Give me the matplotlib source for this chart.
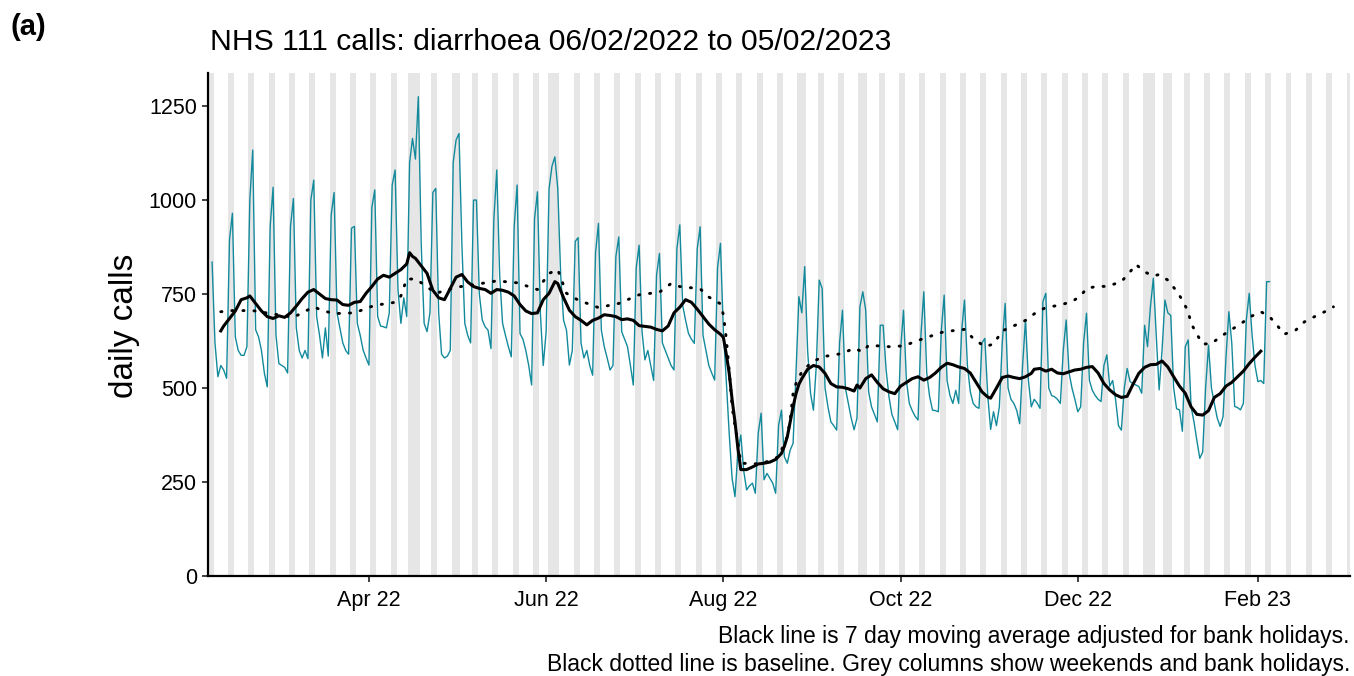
import numpy as np
import pandas as pd
import matplotlib
matplotlib.use('Agg')
import matplotlib.pyplot as plt
import matplotlib.dates as mdates

plt.rcParams['font.family'] = ['Liberation Sans', 'DejaVu Sans']

# ------------------------------
# Data
# ------------------------------
start = pd.Timestamp('2022-02-06')

# daily calls: Sun 06/02/2022, then one row per week (Mon .. Sun)
calls = [835,
         620, 530, 560, 548, 526, 894, 965,
         636, 600, 587, 587, 610, 1000, 1133,
         655, 636, 600, 540, 503, 930, 1034,
         640, 565, 560, 555, 540, 930, 1004,
         660, 600, 580, 600, 578, 1000, 1053,
         690, 640, 580, 660, 585, 960, 1020,
         700, 660, 620, 600, 590, 925, 930,
         672, 640, 601, 580, 561, 980, 1027,
         690, 665, 663, 660, 700, 1040, 1080,
         761, 672, 740, 690, 1100, 1164, 1109,
         1275, 880, 672, 650, 700, 1020, 1031,
         700, 590, 580, 585, 600, 1100, 1160,
         1177, 880, 672, 640, 620, 1000, 1000,
         750, 681, 663, 654, 605, 950, 1080,
         800, 672, 640, 610, 583, 930, 1040,
         645, 630, 600, 560, 508, 950, 1022,
         700, 560, 650, 1030, 1090, 1115, 1030,
         800, 680, 654, 561, 600, 890, 900,
         620, 580, 600, 560, 534, 860, 938,
         654, 610, 580, 548, 560, 850, 902,
         650, 630, 610, 560, 508, 820, 880,
         650, 575, 600, 560, 520, 800, 858,
         620, 600, 580, 560, 548, 870, 934,
         720, 680, 645, 630, 619, 870, 929,
         640, 600, 560, 540, 521, 820, 885,
         650, 520, 380, 260, 211, 330, 375,
         280, 229, 240, 247, 220, 380, 433,
         256, 273, 260, 247, 220, 400, 441,
         317, 300, 335, 353, 540, 743, 700,
         823, 600, 486, 441, 560, 787, 765,
         500, 450, 410, 400, 388, 620, 707,
         500, 460, 420, 389, 420, 716, 756,
         707, 490, 450, 430, 410, 667, 667,
         550, 477, 430, 410, 389, 600, 707,
         520, 459, 440, 425, 415, 640, 756,
         540, 477, 441, 440, 437, 650, 747,
         520, 480, 459, 494, 459, 650, 734,
         560, 490, 459, 450, 446, 620, 632,
         480, 390, 437, 400, 450, 620, 725,
         500, 470, 459, 440, 405, 560, 681,
         520, 450, 470, 460, 446, 730, 752,
         500, 480, 477, 470, 459, 600, 681,
         540, 500, 470, 437, 450, 620, 699,
         520, 494, 480, 470, 464, 560, 588,
         505, 520, 470, 400, 388, 500, 552,
         517, 512, 508, 504, 486, 667, 610,
         716, 792, 640, 495, 600, 734, 700,
         693, 500, 445, 442, 385, 610, 628,
         450, 410, 360, 313, 330, 500, 614,
         500, 459, 420, 398, 424, 580, 703,
         620, 451, 448, 442, 459, 680, 752,
         640, 560, 517, 520, 512, 783, 783]

# 7 day moving average (days after 06/02/2022, value)
ma_day = [3, 4, 6, 8, 10, 12, 13, 15, 17, 19,
          21, 23, 25, 27, 29, 31, 33, 35, 37, 39,
          41, 43, 45, 47, 49, 51, 53, 55, 57, 59,
          61, 63, 65, 67, 68, 69, 70, 72, 74, 76,
          78, 80, 82, 84, 86, 88, 90, 92, 94, 96,
          98, 100, 102, 104, 106, 108, 110, 112, 114, 116,
          118, 119, 121, 123, 125, 127, 129, 131, 133, 135,
          137, 139, 141, 143, 145, 147, 149, 151, 153, 155,
          157, 159, 161, 163, 165, 167, 169, 171, 173, 175,
          176, 177, 178, 179, 180, 181, 182, 184, 186, 188,
          190, 192, 194, 196, 197, 198, 199, 200, 201, 202,
          203, 205, 207, 209, 211, 213, 215, 217, 219, 221,
          222, 223, 225, 227, 229, 231, 233, 235, 237, 239,
          241, 243, 245, 247, 249, 251, 253, 255, 257, 259,
          261, 263, 265, 267, 268, 270, 272, 274, 276, 278,
          280, 282, 283, 285, 287, 289, 291, 293, 295, 297,
          299, 301, 303, 305, 307, 309, 311, 313, 315, 317,
          319, 321, 323, 325, 327, 329, 331, 333, 335, 337,
          339, 341, 343, 345, 347, 349, 351, 353, 355, 357,
          359, 361]
ma_val = [652, 665, 685, 705, 735, 740, 745, 725, 705, 690,
          685, 692, 688, 700, 718, 738, 755, 762, 750, 738,
          735, 734, 722, 720, 728, 730, 752, 770, 790, 800,
          795, 805, 815, 830, 860, 850, 845, 825, 805, 760,
          740, 735, 765, 795, 802, 782, 770, 765, 762, 752,
          762, 760, 755, 745, 722, 705, 698, 700, 735, 752,
          783, 778, 740, 707, 690, 680, 668, 680, 686, 695,
          693, 690, 682, 684, 680, 666, 664, 662, 656, 652,
          665, 700, 715, 735, 728, 710, 690, 670, 655, 643,
          635, 590, 540, 470, 410, 340, 283, 283, 290, 298,
          300, 303, 310, 326, 345, 370, 410, 450, 485, 510,
          525, 550, 560, 556, 539, 512, 503, 502, 498, 492,
          508, 500, 525, 535, 515, 498, 490, 485, 505, 515,
          525, 530, 521, 528, 540, 555, 566, 562, 556, 552,
          540, 515, 490, 476, 473, 500, 528, 532, 528, 525,
          530, 539, 550, 552, 545, 550, 540, 538, 543, 548,
          550, 555, 557, 540, 512, 495, 482, 475, 478, 510,
          539, 555, 562, 563, 572, 556, 530, 505, 486, 450,
          430, 428, 440, 475, 485, 505, 515, 530, 545, 565,
          582, 598]

# baseline (days after 06/02/2022, value)
base_day = [3, 7, 14, 21, 28, 35, 38, 42, 49, 56,
            63, 65, 67, 70, 73, 77, 84, 91, 98, 105,
            112, 116, 119, 122, 126, 133, 140, 147, 154, 158,
            161, 168, 171, 175, 176, 177, 178, 179, 180, 181,
            182, 189, 195, 196, 198, 199, 200, 201, 203, 206,
            210, 217, 221, 224, 226, 233, 238, 245, 252, 259,
            262, 266, 269, 272, 277, 280, 284, 287, 292, 296,
            299, 301, 305, 308, 313, 316, 318, 321, 324, 326,
            329, 332, 334, 336, 337, 339, 341, 344, 347, 351,
            354, 357, 361, 364, 367, 369, 373, 376, 379, 383,
            386]
base_val = [703, 706, 706, 697, 688, 716, 706, 698, 700, 720,
            728, 745, 790, 790, 775, 752, 768, 776, 785, 780,
            762, 805, 815, 752, 734, 714, 725, 748, 755, 778,
            770, 764, 742, 724, 695, 632, 548, 450, 400, 355,
            300, 298, 317, 335, 371, 415, 486, 512, 543, 566,
            583, 592, 606, 596, 614, 610, 612, 632, 650, 656,
            632, 610, 617, 652, 669, 680, 703, 714, 721, 730,
            745, 765, 771, 770, 783, 809, 829, 809, 798, 802,
            787, 758, 734, 703, 672, 643, 617, 618, 636, 656,
            670, 688, 703, 690, 663, 643, 654, 676, 688, 703,
            716]

bank_holidays = ['2022-04-15', '2022-04-18', '2022-05-02', '2022-06-02',
                 '2022-06-03', '2022-08-29', '2022-09-19', '2022-12-26',
                 '2022-12-27', '2023-01-02']

x_ticks = ['2022-04-01', '2022-06-01', '2022-08-01', '2022-10-01',
           '2022-12-01', '2023-02-01']
y_ticks = [0, 250, 500, 750, 1000, 1250]

# ------------------------------
# Prepare series
# ------------------------------
dates = pd.date_range(start, periods=len(calls), freq='D')
ma_dates = start + pd.to_timedelta(ma_day, unit='D')
base_dates = start + pd.to_timedelta(base_day, unit='D')

x0 = mdates.date2num(start)
xmin, xmax = x0 - 1.4, x0 + 391.7

all_days = pd.date_range('2022-02-01', '2023-03-10', freq='D')
hol = pd.to_datetime(bank_holidays)
grey = [d for d in all_days if d.weekday() >= 5 or d in hol]

# merge consecutive grey days into single columns
runs = []
for d in grey:
    n = mdates.date2num(d)
    if runs and abs(n - runs[-1][1]) < 1e-6:
        runs[-1][1] = n + 1
    else:
        runs.append([n, n + 1])

# ------------------------------
# Plot
# ------------------------------
fig = plt.figure(figsize=(13.54, 6.76), dpi=100)
ax = fig.add_axes([208 / 1354, 1 - 576 / 676, (1350 - 208) / 1354, (576 - 73) / 676])

for a, b in runs:
    ax.axvspan(a - 0.5, b - 0.5, color='#e6e6e6', lw=0, zorder=0)

ax.plot(dates, calls, color='#138a9c', lw=1.0, zorder=2)
ax.plot(base_dates, base_val, color='black', lw=2.1, linestyle=(0, (0.4, 3.4)),
        dash_capstyle='round', zorder=3)
ax.plot(ma_dates, ma_val, color='black', lw=2.2, zorder=4)

ax.set_xlim(xmin, xmax)
ax.set_ylim(0, 1338)
ax.set_xticks(pd.to_datetime(x_ticks))
ax.xaxis.set_major_formatter(mdates.DateFormatter('%b %y'))
ax.set_yticks(y_ticks)

for s in ['top', 'right']:
    ax.spines[s].set_visible(False)
for s in ['left', 'bottom']:
    ax.spines[s].set_linewidth(1.6)
    ax.spines[s].set_color('black')
ax.tick_params(axis='both', length=4, width=1.3, color='#333333', labelsize=15.5,
               labelcolor='black')
ax.tick_params(axis='x', pad=6)
ax.tick_params(axis='y', pad=4)

fig.text(125 / 1354, 1 - 326 / 676, 'daily calls', fontsize=24, rotation=90,
         va='center', ha='center')

fig.text(210 / 1354, 1 - 42 / 676, 'NHS 111 calls: diarrhoea 06/02/2022 to 05/02/2023',
         fontsize=21.7, va='center', ha='left')
fig.text(10 / 1354, 1 - 27 / 676, '(a)', fontsize=21, fontweight='bold',
         va='center', ha='left')
fig.text(1350 / 1354, 1 - 637 / 676,
         'Black line is 7 day moving average adjusted for bank holidays.',
         fontsize=16.5, va='center', ha='right')
fig.text(1350 / 1354, 1 - 664 / 676,
         'Black dotted line is baseline. Grey columns show weekends and bank holidays.',
         fontsize=16.5, va='center', ha='right')

fig.savefig('out.png', dpi=100)
plt.close(fig)
